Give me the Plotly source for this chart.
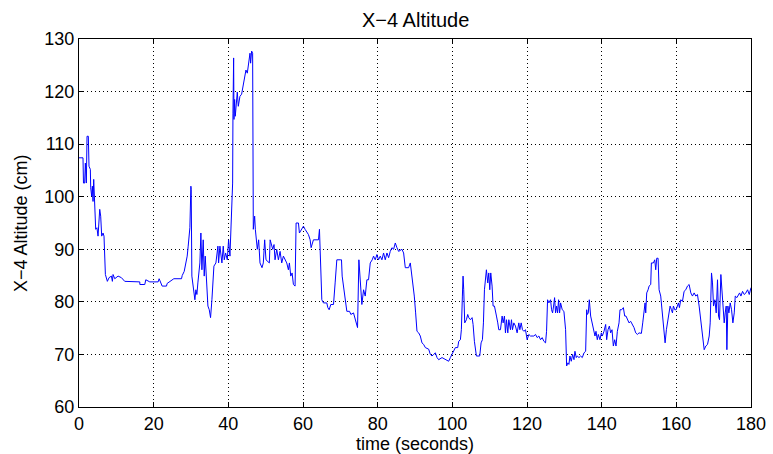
import plotly.graph_objects as go

# time (seconds) and altitude (cm)
time_s = [
    0, 1.07, 1.2, 1.52, 1.70, 1.97, 2.15, 2.50, 2.68, 3.04, 3.13, 3.40, 3.58, 3.76, 3.94, 4.11, 4.47, 4.8, 5.10,
    5.55, 5.81, 6.08, 6.44, 6.7, 7.07, 7.60, 8.05, 8.68, 8.94, 9.12, 9.57, 10.47, 11.36, 12.25, 16.28, 16.3,
    17.62, 17.89, 18.96, 21.20, 21.47, 22.27, 23.44, 23.61, 25.40, 27.46, 27.64, 28.18, 28.62, 28.98, 29.25,
    29.70, 29.97, 30.05, 30.23, 30.77, 31.04, 31.31, 31.58, 31.84, 32.38, 32.65, 32.92, 33.27, 33.54, 33.81,
    34.17, 34.53, 34.89, 35.24, 35.60, 35.87, 36.14, 36.67, 37.21, 37.39, 37.75, 38.28, 38.64, 38.91, 39.27,
    39.72, 40.07, 40.43, 40.70, 40.97, 41.15, 41.24, 41.42, 41.51, 41.69, 41.86, 42.40, 42.67, 43.11, 43.56,
    44.01, 44.28, 44.72, 45.08, 45.35, 45.80, 45.97, 46.24, 46.51, 46.69, 47.05, 47.23, 47.76, 48.12, 48.48,
    49.02, 49.37, 49.73, 50.09, 50.98,
    51.20, 51.89, 52.24, 52.51, 52.96, 53.41, 53.86, 54.30, 54.75, 55.20, 55.65, 56.09, 56.36, 56.72, 57.08,
    57.43, 57.88, 58.15, 58.78, 59.04, 59.67, 60.12, 60.56, 61.01, 61.46, 61.91, 62.17, 62.80, 64.14, 64.41,
    64.59, 65.04, 65.48, 66.38, 66.65, 67.01, 67.45, 68.17, 68.61, 69.06, 69.96, 70.31, 70.49, 71.30, 71.74,
    72.46, 72.82, 73.53, 74.07, 74.61, 74.97, 75.32, 75.77, 76.22, 76.67, 77.11, 77.56, 78.01, 78.54, 78.90,
    79.35, 79.80, 80.24, 80.69, 81.14, 81.58, 82.03, 82.48, 82.93, 83.37, 83.82, 84.27, 84.72, 85.16, 85.61,
    86.50, 86.95, 87.40, 88.29, 88.74, 89.19, 89.46, 89.81, 90.17, 90.53, 90.98, 91.42, 91.87, 92.32, 92.77,
    93.66, 94.11, 94.55, 95.00, 95.45, 95.90, 96.34, 97.24, 98.13, 99.02, 99.47, 99.92,
    100.37, 100.81, 101.44, 101.71, 102.16, 102.42, 102.69, 102.87, 103.05, 103.32, 103.77, 104.12, 104.39,
    104.84, 105.29, 105.56, 105.91, 106.27, 106.45, 107.34, 107.70, 108.06, 108.33, 108.60, 108.86, 109.13,
    109.49, 109.76, 110.03, 110.29, 110.65, 110.92, 111.28, 111.55, 111.82, 112.17, 112.44, 112.89, 113.34,
    113.61, 113.96, 114.23, 114.50, 114.86, 115.13, 115.57, 115.84, 116.11, 116.47, 116.91, 117.36, 117.81,
    118.08, 118.44, 118.79, 119.15, 119.60, 119.87, 120.04, 120.49, 120.94, 121.84, 122.28, 122.73, 123.18,
    123.63, 124.07, 124.52, 124.97, 125.24, 125.51, 125.86, 126.31, 126.58, 126.85, 127.12, 127.39, 127.65,
    127.92, 128.19, 128.46, 128.73, 129.00, 129.44, 129.89, 130.34, 130.61, 130.96, 131.23, 131.50, 131.86,
    132.22, 132.58, 132.84, 133.20, 133.47, 133.92, 134.36, 134.81, 135.26, 135.71, 135.98, 136.15, 136.42,
    136.69, 137.05, 137.49, 137.94, 138.21, 138.48, 138.83, 139.10, 139.55, 139.91, 140.18, 140.62, 141.07,
    141.34, 141.70, 142.06, 142.41, 142.77, 143.13, 143.49, 143.84, 144.20, 144.65, 144.91, 145.36, 145.81,
    146.17, 146.52, 146.88, 147.33, 147.77, 148.22, 148.67, 149.12, 149.56, 150.01, 150.64, 151.00, 151.36,
    151.62, 151.80, 152.07, 152.43, 152.70, 153.14,
    153.32, 153.86, 154.21, 154.48, 154.75, 155.11, 155.38, 155.82, 156.27, 156.54, 156.99, 157.34, 157.61,
    158.06, 158.33, 158.69, 158.96, 159.22, 159.58, 159.94, 160.30, 160.57, 160.83, 161.19, 161.64, 162.08,
    162.53, 162.98, 163.43, 163.88, 164.32, 164.77, 165.22, 165.66, 166.11, 166.38, 166.74, 167.10, 167.46,
    167.90, 168.35, 168.80, 169.07, 169.42, 169.69, 169.96, 170.32, 170.68, 171.03, 171.30, 171.57, 171.93,
    172.20, 172.47, 172.82, 173.09, 173.36, 173.54, 173.81, 174.08, 174.43, 174.79, 175.15, 175.51, 175.78,
    176.22, 176.58, 176.94, 177.30, 177.74, 178.19, 178.64, 179.08, 179.53, 180.0,
]

altitude_cm = [
    107.4, 107.4, 102.6, 102.6, 106.4, 102.6, 111.5, 111.5, 105.8, 105.2, 101.7, 100.1, 102.0, 99.1, 103.3, 98.8,
    93.8, 94.1, 92.5, 97.6, 96.3, 92.5, 93.1, 92.5, 85.2, 83.9, 84.6, 84.9, 83.9, 85.2, 84.4, 84.9, 84.6, 83.9,
    83.8, 83.3, 83.3, 84.2, 83.8, 83.8, 84.4, 83.0, 83.0, 83.5, 84.4, 84.4, 85.0, 85.8, 87.4, 88.7, 90.6, 94.1,
    102.0, 101.4, 84.9, 81.7, 80.4, 82.3, 81.4, 83.6, 87.4, 93.1, 86.1, 91.8, 84.9, 88.7, 82.3, 79.2, 78.5,
    77.0, 80.4, 83.6, 86.8, 87.4, 90.6, 87.4, 90.6, 87.4, 90.6, 88.0, 89.3, 88.0, 91.8, 88.7, 93.8, 96.9,
    102.6, 115.9, 126.4, 114.7, 118.5, 115.3, 119.9, 117.2, 119.1, 119.5, 121.4, 122.1, 124.1, 123.5, 125.4,
    127.3, 125.4, 127.7, 127.3, 93.8, 96.3, 93.8, 90.0, 91.8, 87.4, 86.5, 87.4, 91.8, 88.0, 87.4,
    91.8, 90.0, 90.9, 88.0, 90.0, 88.0, 89.6, 87.4, 88.7, 88.0, 87.4, 86.1, 87.4, 84.9, 85.5, 83.3, 83.0,
    95.0, 95.0, 93.1, 93.8, 94.4, 93.8, 93.4, 92.8, 91.8, 90.3, 91.8, 91.8, 93.8, 90.0, 80.4, 79.8, 79.8,
    78.9, 78.5, 79.5, 79.5, 83.6, 88.0, 88.0, 88.0, 84.9, 80.1, 78.2, 78.2, 77.6, 77.9, 76.6, 75.1, 88.0,
    83.6, 79.5, 82.3, 81.1, 84.2, 84.2, 87.4, 88.0, 88.7, 88.0, 89.0, 88.0, 88.7, 88.0, 89.3, 88.0, 89.3,
    88.4, 89.6, 90.3, 90.0, 91.2, 90.3, 89.6, 90.0, 89.3, 86.5, 86.5, 87.4, 84.9, 83.3, 81.1, 77.9, 74.4,
    74.1, 73.5, 72.2, 71.9, 71.3, 71.0, 70.0, 69.7, 70.0, 70.3, 69.4, 69.0, 69.4, 69.0, 68.7, 69.4, 70.0,
    70.9, 71.3, 71.3, 72.5, 72.8, 74.7, 81.1, 84.9, 82.3, 76.0, 76.6, 77.6, 77.0, 76.6, 77.0, 75.7, 72.5,
    70.9, 69.7, 69.7, 72.2, 72.8, 76.0, 82.3, 84.2, 86.1, 83.6, 85.5, 82.3, 85.5, 83.0, 79.2, 79.2, 77.9,
    77.3, 76.0, 74.7, 74.7, 77.3, 76.0, 77.3, 74.1, 76.6, 74.1, 76.6, 74.7, 76.6, 74.7, 76.0, 75.4, 74.1,
    76.0, 74.7, 76.0, 74.7, 74.4, 74.7, 73.5, 72.8, 73.8, 73.5, 73.5, 73.8, 73.2, 73.5, 72.8, 73.2, 72.5,
    72.2, 74.4, 80.4, 79.8, 80.4, 78.5, 77.9, 79.2, 80.8, 77.9, 79.2, 77.9, 80.4, 77.9, 79.8, 78.5, 78.2,
    74.7, 67.8, 68.4, 68.1, 69.7, 68.7, 70.0, 69.0, 70.6, 69.4, 69.7, 69.4, 69.7, 69.4, 70.3, 70.6, 78.5,
    77.6, 77.9, 80.4, 77.3, 76.0, 74.7, 73.5, 74.4, 72.8, 73.8, 72.8, 74.1, 73.5, 74.4, 75.7, 72.8, 74.7,
    75.4, 74.1, 74.7, 71.6, 72.8, 71.6, 74.4, 76.0, 78.5, 78.5, 78.9, 77.3, 77.3, 76.6, 76.0, 76.3, 75.7,
    75.1, 74.1, 73.8, 74.1, 74.0, 76.0, 77.9, 79.8, 77.9, 81.7, 82.3, 83.0, 83.3,
    87.4, 87.4, 88.0, 86.1, 88.3, 88.3, 82.3, 81.1, 77.9, 74.7, 72.2, 74.7, 76.0, 77.3, 79.2, 78.5, 77.9,
    79.2, 78.5, 78.5, 79.2, 79.8, 78.9, 80.4, 80.1, 82.0, 82.3, 83.0, 83.3, 81.7, 81.1, 81.7, 81.1, 81.4,
    79.2, 77.3, 76.0, 73.5, 70.9, 71.6, 71.9, 73.5, 76.0, 85.5, 83.6, 79.2, 80.4, 77.9, 84.2, 77.3, 76.6,
    85.2, 82.3, 79.8, 76.0, 77.9, 79.2, 70.9, 79.2, 77.9, 79.8, 78.5, 76.0, 77.9, 81.1, 80.8, 81.4, 81.7,
    81.1, 82.0, 81.4, 81.7, 82.3, 81.4, 82.7,
]

x_ticks = [0, 20, 40, 60, 80, 100, 120, 140, 160, 180]
y_ticks = [60, 70, 80, 90, 100, 110, 120, 130]

FONT = "Liberation Sans, Arial, Helvetica, sans-serif"

fig = go.Figure()
fig.add_trace(go.Scatter(
    x=time_s, y=altitude_cm, mode="lines",
    line=dict(color="#0000ff", width=1),
    showlegend=False, hoverinfo="skip",
))

axis_common = dict(
    showline=True, linecolor="black", linewidth=1, mirror="ticks",
    ticks="inside", ticklen=5, tickcolor="black", tickwidth=1,
    showgrid=True, gridcolor="black", gridwidth=1, griddash="1px,3px",
    zeroline=False, automargin=False,
    tickfont=dict(family=FONT, size=18, color="black"),
)

W, H = 773, 454
L, R, T, B = 79, 22, 39, 47

fig.update_layout(
    width=W, height=H,
    paper_bgcolor="white", plot_bgcolor="white",
    margin=dict(l=L, r=R, t=T, b=B),
    font=dict(family=FONT, color="black"),
    xaxis=dict(range=[0, 180], tickvals=x_ticks, ticktext=[str(v) for v in x_ticks],
               **axis_common),
    yaxis=dict(range=[60, 130], tickvals=y_ticks, ticktext=[str(v) for v in y_ticks],
               **axis_common),
    annotations=[
        dict(text="X\u22124 Altitude", xref="paper", yref="paper", x=0.5, y=1 + 19 / (H - T - B),
             xanchor="center", yanchor="middle", showarrow=False,
             font=dict(family=FONT, size=20, color="black")),
        dict(text="time (seconds)", xref="paper", yref="paper", x=0.5, y=-37 / (H - T - B),
             xanchor="center", yanchor="middle", showarrow=False,
             font=dict(family=FONT, size=18, color="black")),
        dict(text="X\u22124 Altitude (cm)", xref="paper", yref="paper", x=-58 / (W - L - R), y=0.5,
             xanchor="center", yanchor="middle", showarrow=False, textangle=-90,
             font=dict(family=FONT, size=18, color="black")),
    ],
)

fig.write_html(
    "out.html",
    config={"displayModeBar": False},
    post_script="document.body.style.margin='0';document.body.style.overflow='hidden';",
)
